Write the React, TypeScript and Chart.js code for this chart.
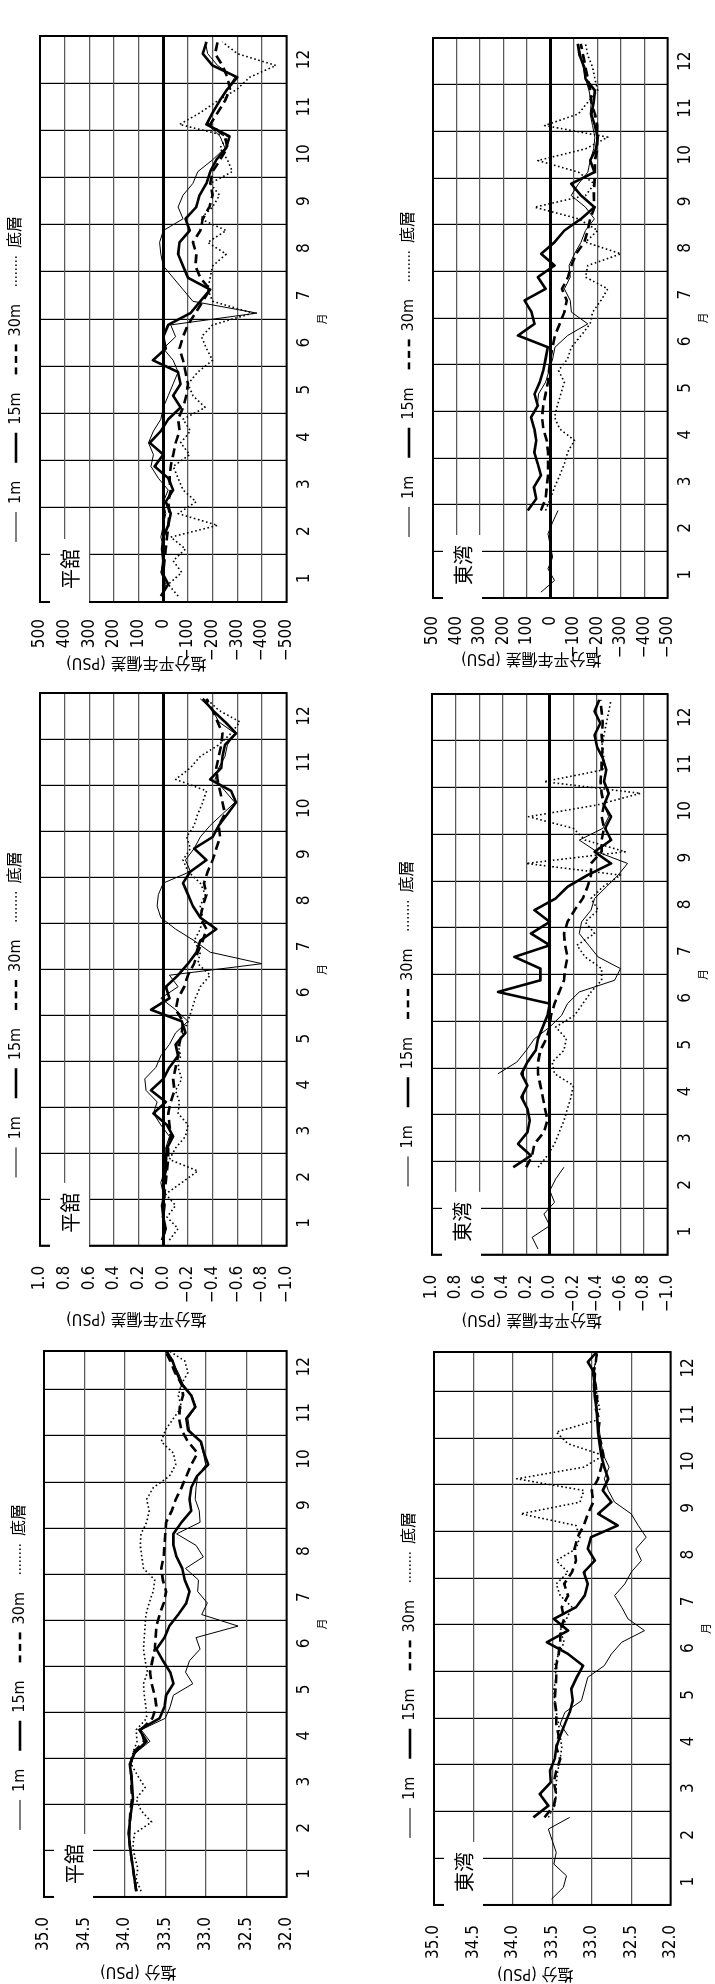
import React, { useEffect, useRef } from 'react';
import { Chart, registerables } from 'chart.js';

Chart.register(...registerables);

if (typeof document !== 'undefined') {
  document.documentElement.style.overflow = 'hidden';
  document.body.style.overflow = 'hidden';
  document.body.style.margin = '0';
  document.body.style.background = '#fff';
}

const NUM_FONT = "'Liberation Sans Narrow', 'DejaVu Sans Condensed', 'Noto Sans CJK JP', sans-serif";
const CJK_FONT = "'Noto Sans CJK JP', 'Noto Sans CJK SC', sans-serif";

// sample times, in months counted from 1 January (weekly readings)
const SAMPLE_T = [
  0.125, 0.375, 0.625, 0.875, 1.125, 1.375, 1.625, 1.875, 2.125, 2.375, 2.625, 2.875,
  3.125, 3.375, 3.625, 3.875, 4.125, 4.375, 4.625, 4.875, 5.125, 5.375, 5.625, 5.875,
  6.125, 6.375, 6.625, 6.875, 7.125, 7.375, 7.625, 7.875, 8.125, 8.375, 8.625, 8.875,
  9.125, 9.375, 9.625, 9.875, 10.125, 10.375, 10.625, 10.875, 11.125, 11.375, 11.625, 11.875,
];
const MONTH_TICKS = [0.5, 1.5, 2.5, 3.5, 4.5, 5.5, 6.5, 7.5, 8.5, 9.5, 10.5, 11.5];
const MONTH_LABELS = ['1', '2', '3', '4', '5', '6', '7', '8', '9', '10', '11', '12'];
const SERIES_LABELS = ['1m', '15m', '30m', '底層'];
const X_TITLE = '月';

const n = null;

// 平舘 salinity (PSU)
const hiraSal1m = [
  33.85, 33.87, 33.90, 33.92, 33.94, 33.95, 33.93, 33.92, 33.90, 33.91, 33.92, 33.93,
  33.87, 33.69, 33.80, 33.50, 33.44, 33.40, 33.16, 33.25, 33.20, 33.07, 33.12, 32.60,
  33.05, 32.98, 33.10, 33.09, 33.25, 33.03, 33.12, 33.36, 33.07, 33.08, 33.13, 33.12,
  33.10, 33.00, 33.03, 33.07, 33.20, 33.22, 33.12, 33.17, 33.28, 33.34, 33.42, 33.48,
];
const hiraSal15m = [
  33.86, 33.88, 33.90, 33.92, 33.94, 33.95, 33.94, 33.92, 33.90, 33.91, 33.92, 33.94,
  33.88, 33.73, 33.82, 33.57, 33.51, 33.49, 33.40, 33.44, 33.53, 33.61, 33.51, 33.45,
  33.34, 33.24, 33.20, 33.26, 33.29, 33.36, 33.40, 33.40, 33.30, 33.18, 33.20, 33.18,
  33.11, 32.97, 33.02, 33.06, 33.22, 33.24, 33.13, 33.18, 33.30, 33.36, 33.41, 33.50,
];
const hiraSal30m = [
  33.86, 33.88, 33.90, 33.92, 33.94, 33.95, 33.94, 33.93, 33.91, 33.92, 33.92, 33.93,
  33.90, 33.76, 33.80, 33.66, 33.61, 33.63, 33.67, 33.69, 33.66, 33.63, 33.62, 33.61,
  33.57, 33.52, 33.49, 33.53, 33.55, 33.52, 33.51, 33.50, 33.49, 33.42, 33.37, 33.30,
  33.24, 33.18, 33.10, 33.22, 33.30, 33.33, 33.32, 33.28, 33.30, 33.38, 33.44, 33.51,
];
const hiraSalBot = [
  33.80, 33.86, 33.84, 33.88, 33.90, 33.88, 33.67, 33.80, 33.86, 33.75, 33.84, 33.92,
  33.90, 33.85, 33.86, 33.73, 33.74, 33.76, 33.77, 33.72, 33.75, 33.77, 33.76, 33.75,
  33.74, 33.70, 33.65, 33.63, 33.77, 33.79, 33.81, 33.80, 33.73, 33.70, 33.73, 33.65,
  33.45, 33.37, 33.40, 33.55, 33.50, 33.40, 33.30, 33.34, 33.30, 33.22, 33.26, 33.48,
];

// 東湾 salinity (PSU)
const higaSal1m = [
  33.51, 33.36, 33.32, 33.48, 33.45, 33.50, 33.55, 33.28, n, n, n, n,
  n, n, 33.30, 33.40, 33.34, 33.13, 33.09, 33.05, 32.84, 32.75, 32.62, 32.33,
  32.54, 32.62, 32.71, 32.58, 32.50, 32.37, 32.44, 32.31, 32.41, 32.50, 32.71, 32.79,
  32.84, 32.78, 32.85, 32.88, 32.90, 32.92, 32.93, 32.95, 32.97, 32.99, 32.95, 32.93,
];
const higaSal15m = [
  n, n, n, n, n, n, n, 33.74, 33.55, 33.66, 33.52, 33.53,
  33.47, 33.45, 33.40, 33.34, 33.28, 33.24, 33.26, 33.19, 33.11, 33.30, 33.57, 33.30,
  33.48, 33.20, 33.09, 33.05, 33.10, 32.96, 33.05, 33.01, 32.67, 32.92, 32.75, 32.86,
  32.79, 32.84, 32.88, 32.90, 32.92, 32.93, 32.94, 32.96, 32.97, 32.96, 33.05, 32.92,
];
const higaSal30m = [
  n, n, n, n, n, n, n, 33.60, 33.48, 33.45, 33.48, 33.45,
  33.40, 33.45, 33.42, 33.45, 33.45, 33.47, 33.46, 33.45, 33.45, 33.42, 33.40, 33.40,
  33.35, 33.38, 33.30, 33.35, 33.25, 33.20, 33.22, 33.18, 33.10, 33.05, 32.98, 33.00,
  32.92, 32.88, 32.85, 32.88, 32.92, 32.90, 32.95, 32.93, 32.95, 32.98, 32.95, 32.93,
];
const higaSalBot = [
  n, n, n, n, n, n, n, 33.55, 33.47, 33.45, 33.45, 33.43,
  33.40, 33.38, 33.40, 33.42, 33.45, 33.47, 33.48, 33.45, 33.47, 33.42, 33.35, 33.40,
  33.32, 33.25, 33.40, 33.45, 33.30, 33.45, 33.20, 33.15, 33.20, 33.90, 33.15, 33.10,
  33.95, 33.10, 32.85, 33.30, 33.45, 32.95, 32.90, 32.93, 32.95, 32.98, 32.95, 32.92,
];

// 平舘 salinity anomaly (PSU)
const hiraAnom1m = [
  0.00, -0.02, 0.01, -0.01, 0.00, 0.02, -0.01, -0.03, -0.02, -0.05, 0.02, 0.08,
  0.05, 0.14, 0.15, 0.06, 0.02, -0.05, -0.10, -0.20, -0.10, 0.02, -0.12, -0.05,
  -0.80, -0.38, -0.25, -0.10, 0.02, 0.05, 0.04, 0.00, -0.22, -0.18, -0.25, -0.30,
  -0.38, -0.48, -0.58, -0.50, -0.42, -0.45, -0.50, -0.52, -0.58, -0.45, -0.40, -0.30,
];
const hiraAnom15m = [
  0.01, -0.02, 0.00, 0.01, -0.01, 0.00, -0.02, -0.02, -0.03, -0.08, -0.03, 0.08,
  -0.02, 0.10, 0.00, -0.05, -0.12, -0.10, -0.18, -0.15, 0.10, -0.05, -0.02, -0.12,
  -0.20, -0.27, -0.30, -0.43, -0.30, -0.24, -0.20, -0.16, -0.22, -0.35, -0.25, -0.40,
  -0.45, -0.52, -0.59, -0.55, -0.38, -0.47, -0.48, -0.50, -0.59, -0.50, -0.40, -0.32,
];
const hiraAnom30m = [
  0.00, -0.01, 0.00, -0.01, -0.01, -0.02, -0.03, -0.04, -0.04, -0.06, -0.05, -0.04,
  -0.06, -0.09, -0.08, -0.10, -0.12, -0.13, -0.15, -0.16, -0.10, -0.12, -0.17, -0.20,
  -0.25, -0.28, -0.32, -0.35, -0.30, -0.32, -0.35, -0.33, -0.36, -0.40, -0.43, -0.46,
  -0.45, -0.50, -0.48, -0.46, -0.44, -0.43, -0.45, -0.47, -0.48, -0.44, -0.40, -0.35,
];
const hiraAnomBot = [
  -0.05, -0.12, -0.03, -0.10, -0.02, -0.15, -0.28, -0.05, -0.10, -0.18, -0.20, -0.12,
  -0.13, -0.10, -0.15, -0.12, -0.14, -0.12, -0.16, -0.20, -0.23, -0.26, -0.30, -0.38,
  -0.28, -0.30, -0.25, -0.30, -0.32, -0.30, -0.34, -0.30, -0.20, -0.16, -0.22, -0.19,
  -0.25, -0.28, -0.32, -0.35, -0.10, -0.22, -0.30, -0.45, -0.55, -0.62, -0.45, -0.35,
];

// 東湾 salinity anomaly (PSU)
const higaAnom1m = [
  0.10, 0.15, 0.00, 0.05, -0.04, 0.00, -0.05, -0.12, n, n, n, n,
  n, n, n, 0.44, 0.28, 0.20, 0.13, 0.00, -0.10, -0.15, -0.25, -0.55,
  -0.60, -0.41, -0.33, -0.25, -0.27, -0.35, -0.38, -0.48, -0.58, -0.66, -0.40, -0.25,
  -0.45, -0.50, -0.46, -0.50, -0.46, -0.48, -0.45, -0.40, -0.38, -0.43, -0.38, -0.42,
];
const higaAnom15m = [
  n, n, n, n, n, n, n, 0.31, 0.16, 0.27, 0.19, 0.17,
  0.19, 0.24, 0.19, 0.24, 0.19, 0.12, 0.10, 0.06, 0.02, 0.00, 0.44, 0.08,
  0.08, 0.30, 0.00, 0.16, 0.00, 0.13, -0.05, -0.15, -0.32, -0.52, -0.38, -0.52,
  -0.47, -0.52, -0.46, -0.50, -0.46, -0.48, -0.45, -0.40, -0.38, -0.43, -0.38, -0.42,
];
const higaAnom30m = [
  n, n, n, n, n, n, n, 0.20, 0.15, 0.13, 0.05, 0.02,
  0.04, 0.06, 0.08, 0.10, 0.10, 0.08, 0.03, 0.00, -0.01, -0.04, -0.08, -0.12,
  -0.13, -0.15, -0.13, -0.12, -0.15, -0.21, -0.28, -0.32, -0.35, -0.35, -0.44, -0.44,
  -0.46, -0.44, -0.46, -0.44, -0.43, -0.44, -0.44, -0.45, -0.44, -0.45, -0.44, -0.43,
];
const higaAnomBot = [
  n, n, n, n, n, n, n, 0.10, 0.02, -0.04, -0.08, -0.12,
  -0.15, -0.18, -0.20, -0.04, -0.02, -0.12, -0.14, -0.05, -0.21, -0.28, -0.35, -0.44,
  -0.44, -0.30, -0.23, -0.38, -0.30, -0.41, -0.35, -0.45, -0.60, 0.20, -0.64, -0.30,
  -0.20, 0.18, -0.40, -0.77, 0.05, -0.45, -0.46, -0.44, -0.46, -0.48, -0.50, -0.52,
];

// 平舘 third panel (scale ±500)
const hiraDev1m = [
  5, -10, 10, 0, -5, 10, 0, -10, 0, -20, 20, 50,
  40, 60, 40, 10, 0, -20, -40, -60, -40, 0, -50, -30,
  -380, -120, -80, -40, 0, 10, 15, 0, -80, -60, -80, -120,
  -140, -200, -250, -230, -180, -200, -230, -260, -290, -220, -180, -170,
];
const hiraDev15m = [
  10, -20, 5, 0, 5, 0, -20, -30, -10, -40, -20, 35,
  0, 55, 10, -20, -70, -40, -70, -60, 42, -10, 0, -20,
  -110, -150, -190, -100, -80, -60, -66, -107, -90, -134, -147, -175,
  -190, -215, -255, -268, -175, -200, -228, -260, -300, -200, -160, -175,
];
const hiraDev30m = [
  0, -5, 0, -5, -10, -15, -20, -25, -20, -30, -25, -30,
  -40, -50, -66, -60, -80, -93, -100, -90, -80, -66, -80, -100,
  -130, -160, -190, -150, -130, -134, -120, -150, -160, -187, -200, -190,
  -200, -230, -260, -250, -190, -220, -250, -270, -260, -240, -210, -220,
];
const hiraDevBot = [
  -60, -20, -75, -40, -90, -30, -220, -60, -133, -80, -60, -40,
  -107, -70, -110, -80, -170, -120, -100, -140, -200, -175, -155, -200,
  -363, -200, -180, -190, -200, -255, -180, -255, -150, -200, -228, -190,
  -280, -260, -230, -260, -66, -150, -220, -300, -350, -457, -300, -240,
];

// 東湾 third panel (scale ±500)
const higaDev1m = [
  40, -18, 10, -10, 0, 10, -10, -33, n, n, n, n,
  n, n, n, 80, 55, 50, 20, 5, -10, -20, -74, -160,
  -90, -85, -60, -85, -80, -103, -131, -150, -188, -150, -89, -120,
  -160, -170, -185, -190, -180, -170, -175, -165, -150, -140, -130, -120,
];
const higaDev15m = [
  n, n, n, n, n, n, n, 96, 60, 70, 40, 53,
  68, 60, 68, 82, 53, 67, 45, 30, 20, 11, 138, 67,
  80, 110, 20, 53, -18, 39, -18, -60, -131, -188, -131, -89,
  -188, -170, -195, -202, -190, -175, -185, -190, -150, -145, -125, -117,
];
const higaDev30m = [
  n, n, n, n, n, n, n, 40, 20, 15, 10, 10,
  10, 15, 30, 35, 30, 20, 10, 5, 0, -10, -20, -40,
  -60, -70, -50, -75, -90, -110, -145, -160, -170, -188, -185, -188,
  -190, -190, -200, -200, -200, -190, -175, -170, -160, -150, -140, -130,
];
const higaDevBot = [
  n, n, n, n, n, n, n, 20, 0, -18, -40, -60,
  -74, -103, -40, -18, -30, -45, -60, -35, -74, -90, -131, -170,
  -180, -216, -245, -150, -160, -301, -150, -202, -120, 67, -150, -188,
  -120, 53, -150, -245, 24, -120, -160, -202, -190, -180, -160, -150,
];

const RANGES: Record<string, { min: number; max: number; step: number }> = {
  sal: { min: 32, max: 35, step: 0.5 },
  anom: { min: -1, max: 1, step: 0.2 },
  dev: { min: -500, max: 500, step: 100 },
};

const STYLES = [
  { borderWidth: 1, borderDash: [] as number[], legendDash: [] as number[] },
  { borderWidth: 2.6, borderDash: [] as number[], legendDash: [] as number[] },
  { borderWidth: 2.6, borderDash: [9, 5], legendDash: [7, 4.5] },
  { borderWidth: 1.6, borderDash: [1.6, 2.6], legendDash: [1.6, 2.4] },
];

type PanelDef = {
  key: string;
  station: string;
  yTitle: string;
  kind: 'sal' | 'anom' | 'dev';
  xMax: number;
  box: { x: number; y: number; w: number; h: number };
  tDx: number;
  tDy: number;
  tickPad: number;
  legendCenter: number;
  series: (number | null)[][];
};

const PANELS: PanelDef[] = [
  { key: 'p1', station: '平舘', yTitle: '塩分 (PSU)', kind: 'sal', xMax: 11.84, box: { x: 87, y: 44, w: 546, h: 243 }, tDx: -74, tDy: -27, tickPad: 20, legendCenter: 87 + 240, series: [hiraSal1m, hiraSal15m, hiraSal30m, hiraSalBot] },
  { key: 'p2', station: '東湾', yTitle: '塩分 (PSU)', kind: 'sal', xMax: 11.84, box: { x: 79, y: 434, w: 553, h: 237 }, tDx: -68, tDy: -17, tickPad: 20, legendCenter: 79 + 240, series: [higaSal1m, higaSal15m, higaSal30m, higaSalBot] },
  { key: 'p3', station: '平舘', yTitle: '塩分平年偏差 (PSU)', kind: 'anom', xMax: 12, box: { x: 738, y: 40, w: 553, h: 247 }, tDx: -72, tDy: -27, tickPad: 20, legendCenter: 738 + 240, series: [hiraAnom1m, hiraAnom15m, hiraAnom30m, hiraAnomBot] },
  { key: 'p4', station: '東湾', yTitle: '塩分平年偏差 (PSU)', kind: 'anom', xMax: 12, box: { x: 729, y: 432, w: 561, h: 236 }, tDx: -64, tDy: -18, tickPad: 20, legendCenter: 729 + 240, series: [higaAnom1m, higaAnom15m, higaAnom30m, higaAnomBot] },
  { key: 'p5', station: '平舘', yTitle: '塩分平年偏差 (PSU)', kind: 'dev', xMax: 12, box: { x: 1382, y: 40, w: 566, h: 247 }, tDx: -60, tDy: -27, tickPad: 17, legendCenter: 1382 + 232, series: [hiraDev1m, hiraDev15m, hiraDev30m, hiraDevBot] },
  { key: 'p6', station: '東湾', yTitle: '塩分平年偏差 (PSU)', kind: 'dev', xMax: 12, box: { x: 1386, y: 433, w: 560, h: 235 }, tDx: -60, tDy: -19, tickPad: 18, legendCenter: 1386 + 232, series: [higaDev1m, higaDev15m, higaDev30m, higaDevBot] },
];

const decorPlugin = {
  id: 'decor',
  afterDraw(chart: any, _args: any, opts: any) {
    const { ctx, chartArea: a } = chart;
    ctx.save();
    ctx.setLineDash([]);
    ctx.strokeStyle = '#000';
    ctx.lineWidth = 2;
    ctx.strokeRect(a.left, a.top, a.right - a.left, a.bottom - a.top);
    // station label
    ctx.fillStyle = '#fff';
    ctx.fillRect(a.left - 3, a.top + 10, 66, 39);
    ctx.fillStyle = '#000';
    ctx.textAlign = 'center';
    ctx.textBaseline = 'middle';
    ctx.font = `20px ${CJK_FONT}`;
    ctx.fillText(opts.station, a.left + 33, a.top + 30);
    // value-axis title
    ctx.save();
    ctx.translate(a.left + opts.tDx, (a.top + a.bottom) / 2 + opts.tDy);
    ctx.rotate(-Math.PI / 2);
    ctx.font = `16px ${NUM_FONT}`;
    ctx.fillText(opts.yTitle, 0, 0);
    ctx.restore();
    // month-axis title
    ctx.font = `11px ${CJK_FONT}`;
    ctx.fillText(X_TITLE, (a.left + a.right) / 2, a.bottom + 35);
    ctx.restore();
  },
};

function formatter(kind: string) {
  if (kind === 'sal') return (v: number) => v.toFixed(1);
  if (kind === 'anom')
    return (v: number) => (Math.abs(v) < 1e-9 ? '0.0' : v < 0 ? '\u2212' + Math.abs(v).toFixed(1) : v.toFixed(1));
  return (v: number) => (Math.abs(v) < 1e-6 ? '0' : v < 0 ? '\u2212' + Math.abs(Math.round(v)) : String(Math.round(v)));
}

function spacerAxis(position: string, size: number, weight: number) {
  return {
    type: 'linear',
    position,
    display: true,
    weight,
    ticks: { display: false },
    grid: { display: false, drawTicks: false },
    border: { display: false },
    afterFit: (s: any) => {
      if (position === 'top') s.height = size;
      else s.width = size;
    },
  };
}

function buildConfig(p: PanelDef, leftSp: number, rightSp: number): any {
  const range = RANGES[p.kind];
  const fmt = formatter(p.kind);
  const hasZero = p.kind !== 'sal';
  return {
    type: 'line',
    data: {
      datasets: p.series.map((vals, i) => ({
        label: SERIES_LABELS[i],
        data: SAMPLE_T.map((t, k) => ({ x: t, y: vals[k] })),
        borderColor: '#000',
        backgroundColor: '#000',
        borderWidth: STYLES[i].borderWidth,
        borderDash: STYLES[i].borderDash,
        borderJoinStyle: 'round',
        pointRadius: 0,
        pointHoverRadius: 0,
        tension: 0,
        spanGaps: false,
        fill: false,
      })),
    },
    options: {
      animation: false,
      responsive: false,
      maintainAspectRatio: false,
      devicePixelRatio: 1,
      events: [],
      layout: { padding: { left: 40, right: 6, top: 0, bottom: 16 } },
      plugins: {
        legend: {
          display: true,
          position: 'top',
          labels: {
            usePointStyle: true,
            pointStyle: 'line',
            pointStyleWidth: 30,
            padding: 18,
            color: '#000',
            font: { family: NUM_FONT, size: 16 },
            generateLabels: (chart: any) => {
              const items = Chart.defaults.plugins.legend.labels.generateLabels(chart);
              items.forEach((it: any, i: number) => {
                const st = STYLES[it.datasetIndex ?? i];
                it.lineDash = st.legendDash;
                it.lineWidth = st.borderWidth;
                it.strokeStyle = '#000';
                it.fillStyle = '#000';
                it.pointStyle = 'line';
                it.lineCap = 'butt';
              });
              return items;
            },
          },
        },
        tooltip: { enabled: false },
        decor: { station: p.station, yTitle: p.yTitle, tDx: p.tDx, tDy: p.tDy },
      },
      scales: {
        x: {
          type: 'linear',
          position: 'bottom',
          min: 0,
          max: p.xMax,
          afterBuildTicks: (s: any) => {
            s.ticks = MONTH_TICKS.map((v) => ({ value: v }));
          },
          ticks: {
            autoSkip: false,
            maxRotation: 0,
            minRotation: 0,
            padding: 8,
            color: '#000',
            font: { family: NUM_FONT, size: 17 },
            callback: (_v: number, i: number) => MONTH_LABELS[i],
          },
          grid: { offset: true, color: '#000', lineWidth: 1.2, drawTicks: false },
          border: { display: false },
        },
        y: {
          type: 'linear',
          position: 'left',
          min: range.min,
          max: range.max,
          ticks: {
            stepSize: range.step,
            autoSkip: false,
            padding: p.tickPad,
            color: '#000',
            font: { family: NUM_FONT, size: 17 },
            callback: (v: number) => fmt(v),
          },
          grid: {
            drawTicks: false,
            color: (c: any) => (hasZero && c.tick && Math.abs(c.tick.value) < 1e-9 ? '#000' : '#5a5a5a'),
            lineWidth: (c: any) => (hasZero && c.tick && Math.abs(c.tick.value) < 1e-9 ? 3 : 1.2),
          },
          border: { display: false },
        },
        spTop: spacerAxis('top', 6, 0),
        spLeft: spacerAxis('left', leftSp, 10),
        spRight: spacerAxis('right', rightSp, 10),
      },
    },
    plugins: [decorPlugin],
  };
}

function Panel({ p }: { p: PanelDef }) {
  const ref = useRef<HTMLCanvasElement | null>(null);
  useEffect(() => {
    const canvas = ref.current;
    if (!canvas) return;
    const make = (w: number, h: number, ls: number, rs: number) => {
      canvas.width = w;
      canvas.height = h;
      canvas.style.width = w + 'px';
      canvas.style.height = h + 'px';
      return new Chart(canvas, buildConfig(p, ls, rs));
    };
    const W0 = p.box.w + 140;
    const H0 = p.box.h + 110;
    let chart = make(W0, H0, 0, 0);
    let a = chart.chartArea;
    const dW = p.box.w - (a.right - a.left);
    const dH = p.box.h - (a.bottom - a.top);
    let ls = 0;
    let rs = 0;
    const hb = (chart as any).legend?.legendHitBoxes;
    if (hb && hb.length) {
      const first = hb[0].left;
      const lastBox = hb[hb.length - 1];
      const center = p.box.x + ((first + lastBox.left + lastBox.width) / 2 - a.left);
      const d = p.legendCenter - center;
      if (d < 0) ls = Math.round(-2 * d);
      else rs = Math.round(2 * d);
    }
    chart.destroy();
    chart = make(Math.round(W0 + dW + ls + rs), Math.round(H0 + dH), ls, rs);
    a = chart.chartArea;
    canvas.style.left = Math.round(p.box.x - a.left) + 'px';
    canvas.style.top = Math.round(p.box.y - a.top) + 'px';
    return () => {
      chart.destroy();
    };
  }, [p]);
  return <canvas ref={ref} style={{ position: 'absolute', left: 0, top: 0 }} />;
}

export default function App() {
  return (
    <div
      style={{
        position: 'absolute',
        left: 0,
        top: 0,
        width: 1984,
        height: 715,
        transformOrigin: '0 0',
        transform: 'translateY(1984px) rotate(-90deg)',
        background: '#fff',
      }}
    >
      {PANELS.map((p) => (
        <Panel key={p.key} p={p} />
      ))}
    </div>
  );
}
